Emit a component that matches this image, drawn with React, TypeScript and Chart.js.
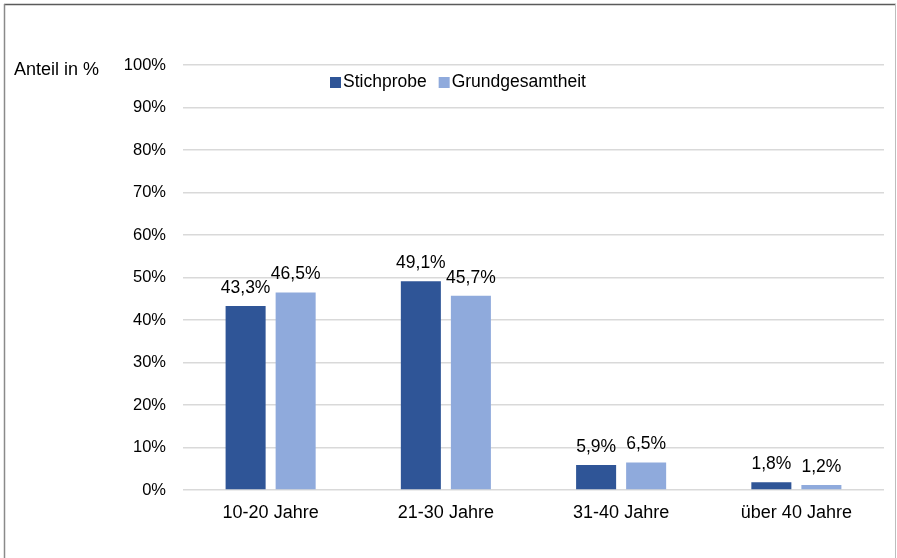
import React, { useEffect, useRef } from "react";
import { Chart, registerables } from "chart.js";

Chart.register(...registerables);

const categories = ["10-20 Jahre", "21-30 Jahre", "31-40 Jahre", "über 40 Jahre"];
const stichprobe = [43.3, 49.1, 5.9, 1.8];
const grundgesamtheit = [46.5, 45.7, 6.5, 1.2];
const seriesNames = ["Stichprobe", "Grundgesamtheit"];
const axisTitle = "Anteil in %";

const FONT = '"Liberation Sans", Arial, Helvetica, sans-serif';
const DARK = "#2F5597";
const LIGHT = "#8FAADC";

const fmt = (v: number) => v.toFixed(1).replace(".", ",") + "%";

const extrasPlugin = {
  id: "extras",
  beforeDraw(chart: any) {
    const ctx = chart.ctx;
    ctx.save();
    ctx.lineWidth = 1.5;
    ctx.strokeStyle = "#5a5a5a";
    ctx.beginPath();
    ctx.moveTo(4, 4.5);
    ctx.lineTo(896, 4.5);
    ctx.stroke();
    ctx.strokeStyle = "#8a8a8a";
    ctx.beginPath();
    ctx.moveTo(4.5, 4);
    ctx.lineTo(4.5, 558);
    ctx.stroke();
    ctx.strokeStyle = "#bdbdbd";
    ctx.lineWidth = 1;
    ctx.beginPath();
    ctx.moveTo(895.5, 4);
    ctx.lineTo(895.5, 558);
    ctx.stroke();
    ctx.restore();
  },
  afterDraw(chart: any) {
    const ctx = chart.ctx;
    ctx.save();
    ctx.fillStyle = "#000";
    ctx.font = `18px ${FONT}`;
    ctx.textBaseline = "middle";
    ctx.textAlign = "left";
    ctx.fillText(axisTitle, 14, 70);

    // data labels
    ctx.font = `17.5px ${FONT}`;
    ctx.textAlign = "center";
    ctx.textBaseline = "alphabetic";
    chart.data.datasets.forEach((ds: any, di: number) => {
      const meta = chart.getDatasetMeta(di);
      meta.data.forEach((bar: any, i: number) => {
        ctx.fillText(fmt(ds.data[i]), bar.x, bar.y - 13);
      });
    });

    // legend
    ctx.textAlign = "left";
    ctx.textBaseline = "middle";
    let x = 330;
    const y = 82;
    chart.data.datasets.forEach((ds: any) => {
      ctx.fillStyle = ds.backgroundColor;
      ctx.fillRect(x, y - 5, 11, 11);
      ctx.fillStyle = "#000";
      ctx.fillText(ds.label, x + 13, y);
      x += 13 + ctx.measureText(ds.label).width + 12;
    });
    ctx.restore();
  },
};

export default function App() {
  const ref = useRef<HTMLCanvasElement | null>(null);
  useEffect(() => {
    if (!ref.current) return;
    const chart = new Chart(ref.current, {
      type: "bar",
      data: {
        labels: categories,
        datasets: [
          { label: seriesNames[0], data: stichprobe, backgroundColor: DARK },
          { label: seriesNames[1], data: grundgesamtheit, backgroundColor: LIGHT },
        ],
      },
      options: {
        animation: false,
        responsive: false,
        maintainAspectRatio: false,
        devicePixelRatio: 1,
        layout: { padding: { top: 65, right: 13, left: 0, bottom: 0 } },
        datasets: { bar: { categoryPercentage: 0.571, barPercentage: 0.8 } },
        plugins: { legend: { display: false }, tooltip: { enabled: false } },
        scales: {
          x: {
            grid: { display: false, drawTicks: false },
            border: { display: false },
            ticks: { color: "#000", font: { family: FONT, size: 18 }, padding: 12, maxRotation: 0 },
            afterFit: (s: any) => { s.height = 68; },
          },
          y: {
            min: 0,
            max: 100,
            grid: { color: "#d9d9d9", lineWidth: 1.5, drawTicks: false },
            border: { display: false },
            ticks: {
              stepSize: 10,
              color: "#000",
              font: { family: FONT, size: 16.5 },
              padding: 17,
              callback: (v: any) => v + "%",
            },
            afterFit: (s: any) => { s.width = 183; },
          },
        },
      },
      plugins: [extrasPlugin],
    } as any);
    return () => chart.destroy();
  }, []);
  return (
    <div style={{ position: "fixed", left: 0, top: 0, width: 897, height: 558, background: "#fff" }}>
      <canvas ref={ref} width={897} height={558} style={{ width: 897, height: 558, display: "block" }} />
    </div>
  );
}
